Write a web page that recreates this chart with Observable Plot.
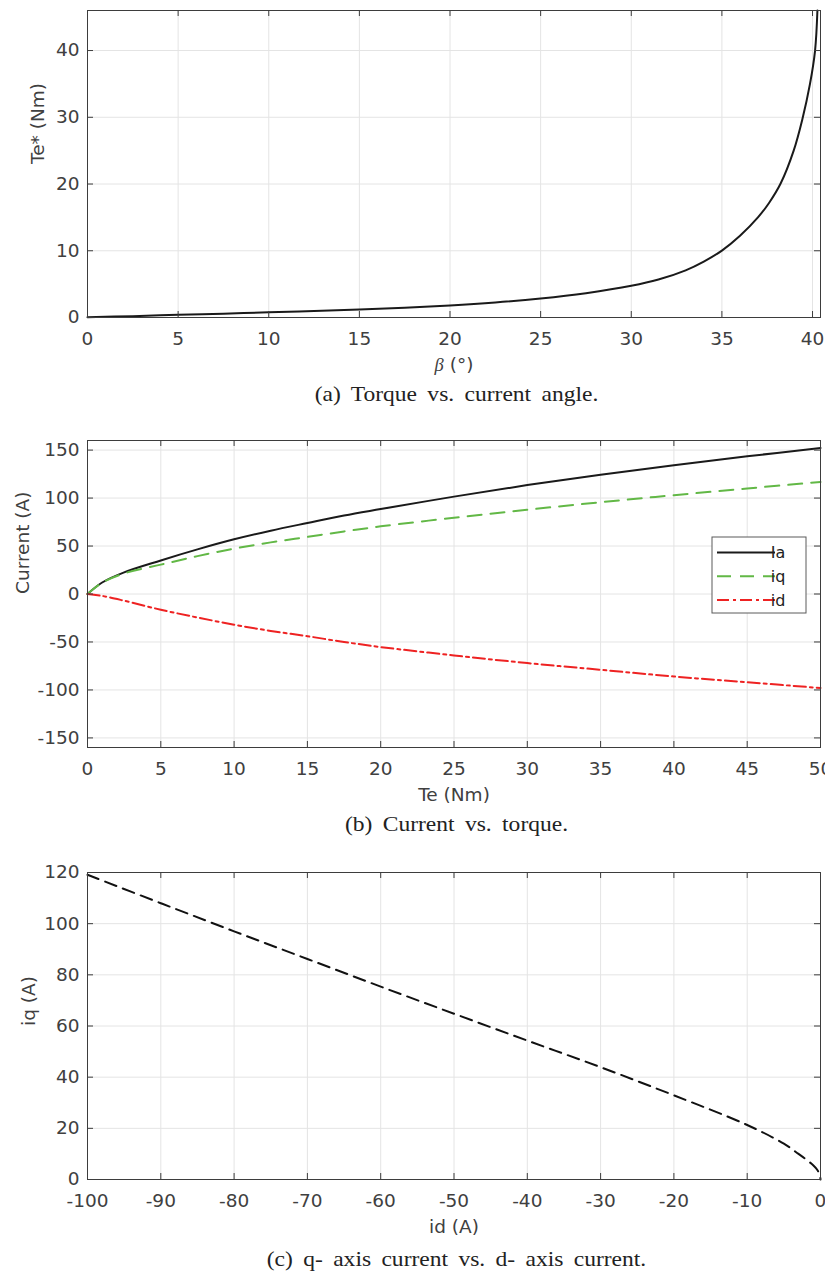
<!DOCTYPE html>
<html>
<head>
<meta charset="utf-8">
<script src="https://cdn.jsdelivr.net/npm/d3@7"></script>
<script src="https://cdn.jsdelivr.net/npm/@observablehq/plot@0.6"></script>
<style>
  html, body { margin: 0; padding: 0; background: #fff; }
  #wrap { position: relative; width: 825px; height: 1279px; overflow: hidden; }
  .panel { position: absolute; left: 0; }
  .cap { position: absolute; left: 90px; width: 733px; text-align: center;
         font-family: "Liberation Serif", "Times New Roman", serif; font-size: 21px;
         line-height: 24px; color: #222; word-spacing: 4px;
         transform: scaleX(1.12); transform-origin: center; white-space: nowrap; }
</style>
</head>
<body>
<div id="wrap"></div>
<script>
// ---------- data ----------
// (a) torque vs current angle
const betaA = [0, 2.5, 5, 7.5, 10, 12.5, 15, 17.5, 20, 22.5, 25, 27.5, 30, 31.5, 33, 34, 35, 36, 37, 37.6, 38.24, 38.96, 39.43, 39.86, 40.14, 40.27];
const teA   = [0.05, 0.2, 0.4, 0.58, 0.78, 0.98, 1.2, 1.47, 1.8, 2.25, 2.85, 3.65, 4.75, 5.69, 7.07, 8.38, 10.03, 12.25, 15.04, 17.16, 20.07, 25, 29.6, 35, 40, 46];
const xTicksA = [0, 5, 10, 15, 20, 25, 30, 35, 40];
const yTicksA = [0, 10, 20, 30, 40];

// (b) current vs torque
const teB = [0, 1, 2.5, 5, 7.5, 10, 12.5, 15, 17.5, 20, 25, 30, 35, 40, 45, 50];
const iaB = [0, 12, 22.6, 35, 46.5, 57, 66, 74, 81.8, 88.5, 101.5, 113.5, 124.3, 134.3, 143.5, 152.2];
const iqB = [0, 11.8, 21.5, 30.6, 39.5, 47.3, 53.8, 59.5, 65.2, 70.5, 79.5, 87.8, 95.7, 103, 110, 116.8];
const idB = [0, -2, -7, -16.4, -24.5, -32, -38.5, -44, -50, -55.3, -64, -72, -79, -86, -92, -98];
const seriesNames = ["Ia", "iq", "id"];
const xTicksB = [0, 5, 10, 15, 20, 25, 30, 35, 40, 45, 50];
const yTicksB = [-150, -100, -50, 0, 50, 100, 150];

// (c) iq vs id
const idC = [-100, -90, -80, -70, -60, -50, -40, -30, -20, -10, -5, -3, -2, -1, -0.5, -0.1, 0];
const iqC = [119.1, 108.0, 97.0, 86.2, 75.4, 64.8, 54.3, 43.9, 32.9, 21.3, 14, 10, 7.9, 5.6, 4.0, 1.8, 0];
const xTicksC = [-100, -90, -80, -70, -60, -50, -40, -30, -20, -10, 0];
const yTicksC = [0, 20, 40, 60, 80, 100, 120];

const captions = ["(a) Torque vs. current angle.", "(b) Current vs. torque.", "(c) q- axis current vs. d- axis current."];

// ---------- styles ----------
const seriesColors = ["#1a1a1a", "#62b846", "#ee2222"];
const seriesDash = [null, "14,9", "12,4,3,4"];
const W = 825, H = 380, ML = 87, MR = 5, MT = 10, MB = 63;
const PH = H - MT - MB, PW = W - ML - MR;
const frameColor = "#3d3d3d";
const gridColor = "#e4e4e4";
const fmt = d => String(d);

function panel({xDomain, yDomain, xTicks, yTicks, lines, xLabel, yLabel, yLabelX}) {
  return Plot.plot({
    width: W, height: H,
    marginLeft: ML, marginRight: MR, marginTop: MT, marginBottom: MB,
    style: {fontFamily: "'DejaVu Sans', sans-serif", fontSize: "18.5px", color: "#404040", background: "white", overflow: "visible"},
    x: {domain: xDomain},
    y: {domain: yDomain},
    marks: [
      Plot.gridX(xTicks, {stroke: gridColor, strokeOpacity: 1, strokeWidth: 1}),
      Plot.gridY(yTicks, {stroke: gridColor, strokeOpacity: 1, strokeWidth: 1}),
      ...lines,
      Plot.frame({stroke: frameColor, strokeWidth: 1}),
      Plot.tickX(xTicks, {x: d => d, insetTop: PH - 6, stroke: frameColor}),
      Plot.tickX(xTicks, {x: d => d, insetBottom: PH - 6, stroke: frameColor}),
      Plot.tickY(yTicks, {y: d => d, insetRight: PW - 6, stroke: frameColor}),
      Plot.tickY(yTicks, {y: d => d, insetLeft: PW - 6, stroke: frameColor}),
      Plot.axisX(xTicks, {tickSize: 0, tickPadding: 14, tickFormat: fmt, label: null}),
      Plot.axisY(yTicks, {tickSize: 0, tickPadding: 8, tickFormat: fmt, label: null}),
      Plot.text([xLabel], {frameAnchor: "bottom", dy: 48, lineAnchor: "middle", text: d => d}),
      Plot.text([yLabel], {frameAnchor: "left", dx: -(ML - yLabelX), rotate: -90, lineAnchor: "middle", text: d => d})
    ]
  });
}

const wrap = document.getElementById("wrap");

// panel (a)
const dataA = betaA.map((b, i) => ({beta: b, te: teA[i]}));
const svgA = panel({
  xDomain: [0, 40.44], yDomain: [0, 46], xTicks: xTicksA, yTicks: yTicksA,
  lines: [Plot.line(dataA, {x: "beta", y: "te", stroke: seriesColors[0], strokeWidth: 2, curve: "catmull-rom"})],
  xLabel: "β (°)", yLabel: "Te* (Nm)", yLabelX: 38
});
d3.select(svgA).selectAll("text").filter(function() { return this.textContent === "β (°)"; })
  .each(function() {
    const t = d3.select(this);
    t.text(null);
    t.append("tspan").attr("font-family", "'Liberation Serif', serif").attr("font-style", "italic").text("β");
    t.append("tspan").text(" (°)");
  });

// panel (b)
const dataB = [];
seriesNames.forEach((name, k) => {
  const vals = [iaB, iqB, idB][k];
  teB.forEach((t, i) => dataB.push({series: name, te: t, cur: vals[i]}));
});
const svgB = panel({
  xDomain: [0, 50], yDomain: [-160, 160], xTicks: xTicksB, yTicks: yTicksB,
  lines: seriesNames.map((name, k) => Plot.line(dataB.filter(d => d.series === name), {
    x: "te", y: "cur", stroke: seriesColors[k], strokeWidth: 2, curve: "catmull-rom",
    strokeDasharray: seriesDash[k] || undefined
  })),
  xLabel: "Te (Nm)", yLabel: "Current (A)", yLabelX: 23
});
// legend box
{
  const g = d3.select(svgB).append("g").attr("class", "legend");
  g.append("rect").attr("x", 712).attr("y", 107).attr("width", 94).attr("height", 76)
    .attr("fill", "white").attr("stroke", "#5a5a5a").attr("stroke-width", 1);
  seriesNames.forEach((name, k) => {
    const y = 122.5 + k * 23.7;
    g.append("line").attr("x1", 717).attr("x2", 775).attr("y1", y).attr("y2", y)
      .attr("stroke", seriesColors[k]).attr("stroke-width", 2)
      .attr("stroke-dasharray", seriesDash[k] || null);
    g.append("text").attr("x", 778).attr("y", y).attr("dy", "0.35em")
      .attr("font-family", "'DejaVu Sans', sans-serif").attr("font-size", "16px")
      .attr("fill", "#222").text(name);
  });
}

// panel (c)
const dataC = idC.map((d, i) => ({id: d, iq: iqC[i]}));
const svgC = panel({
  xDomain: [-100, 0], yDomain: [0, 120], xTicks: xTicksC, yTicks: yTicksC,
  lines: [Plot.line(dataC, {x: "id", y: "iq", stroke: "#111", strokeWidth: 2, strokeDasharray: "12,7", curve: "catmull-rom"})],
  xLabel: "id (A)", yLabel: "iq (A)", yLabelX: 29
});

const tops = [0, 430, 862];
[svgA, svgB, svgC].forEach((svg, i) => {
  svg.classList.add("panel");
  svg.style.position = "absolute";
  svg.style.top = tops[i] + "px";
  svg.style.left = "0px";
  wrap.appendChild(svg);
});

const capCenters = [395, 825, 1260];
captions.forEach((c, i) => {
  const div = document.createElement("div");
  div.className = "cap";
  div.style.top = (capCenters[i] - 13) + "px";
  div.textContent = c;
  wrap.appendChild(div);
});
</script>
</body>
</html>
